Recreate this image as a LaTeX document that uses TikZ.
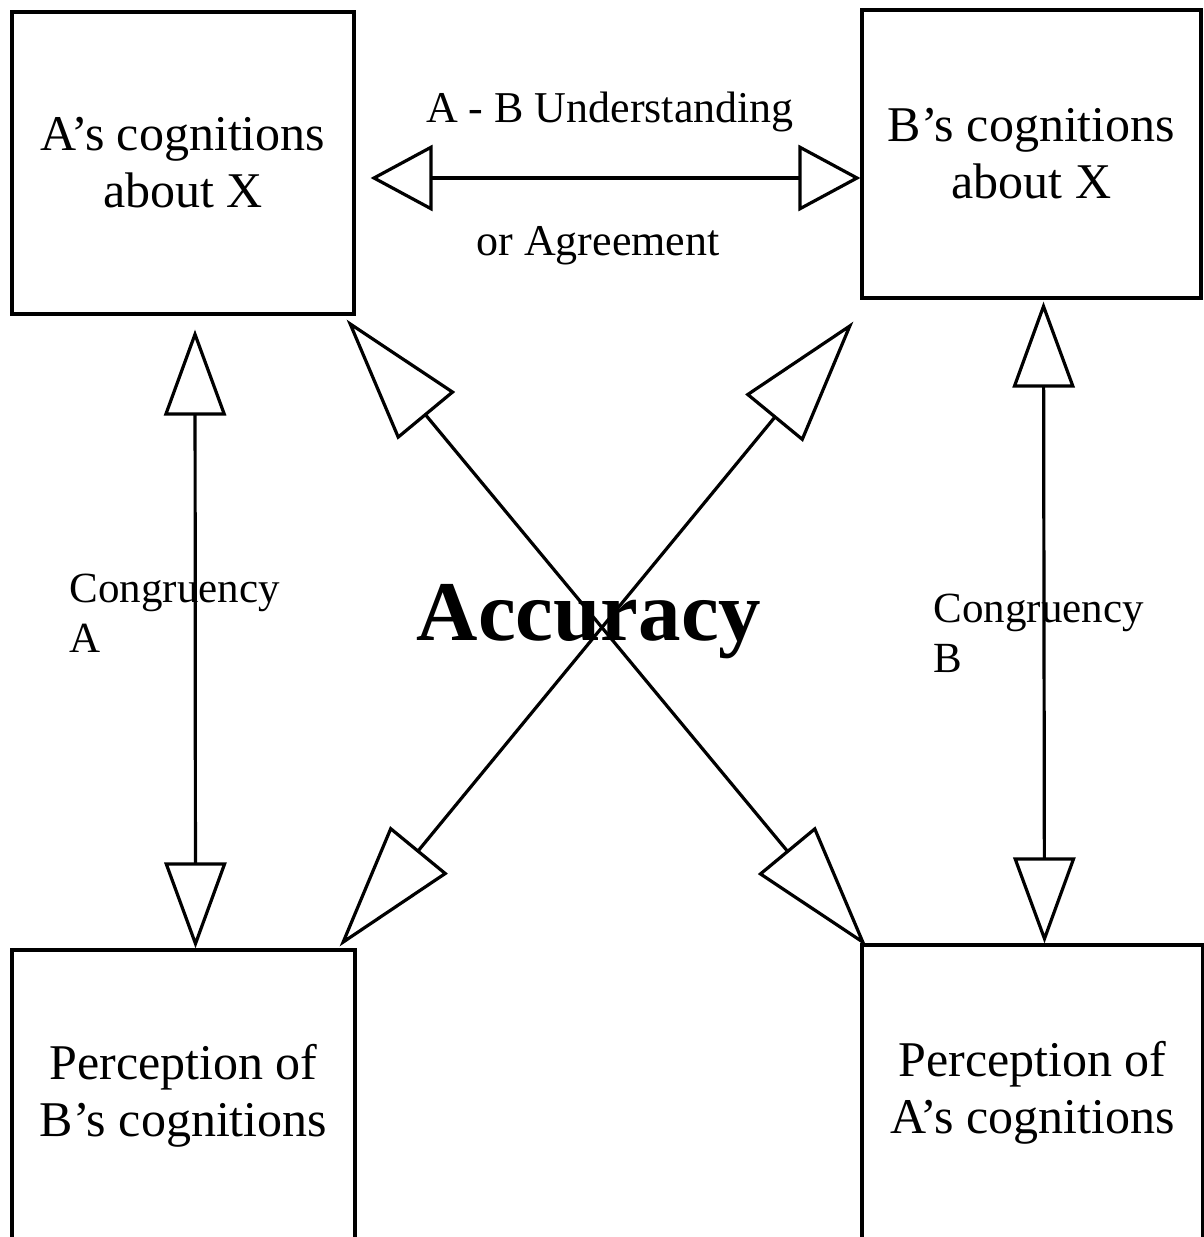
\documentclass[tikz,border=0pt]{standalone}
\usepackage{fontspec}
\setmainfont{Liberation Serif}
\usetikzlibrary{arrows.meta}

\begin{document}
\begin{tikzpicture}
  [x=1pt,y=-1pt,line width=3.2pt,
   box/.style={draw,rectangle,inner sep=0pt,align=center,
     font=\fontsize{50}{57}\selectfont},
   lbl/.style={font=\fontsize{44}{50}\selectfont},
   cong/.style={anchor=base west,align=left,inner sep=0pt,
     font=\fontsize{43}{50}\selectfont},
   harrow/.style={{Triangle[open,length=62pt,width=66pt]}-{Triangle[open,length=62pt,width=66pt]}},
   varrow/.style={{Triangle[open,length=86pt,width=62pt]}-{Triangle[open,length=86pt,width=62pt]}},
   darrow/.style={{Triangle[open,length=125pt,width=74pt]}-{Triangle[open,length=125pt,width=74pt]}}]
  \useasboundingbox (0,0) rectangle (1204,1237);

  % the four boxes
  \node[box,minimum width=342pt,minimum height=302pt] (ax) at (183,163)
    {A’s cognitions\\about X};
  \node[box,minimum width=339pt,minimum height=288pt] (bx) at (1031.5,154)
    {B’s cognitions\\about X};
  \node[box,minimum width=343pt,minimum height=292pt] (pb) at (183.5,1096)
    {Perception of\\B’s cognitions};
  \node[box,minimum width=341pt,minimum height=296pt] (pa) at (1032.5,1093)
    {Perception of\\A’s cognitions};

  % labels
  \node[lbl,anchor=base,inner sep=0pt] (under) at (610,122) {A - B Understanding};
  \node[lbl,anchor=base,inner sep=0pt] (agree) at (598,255) {or Agreement};
  \node[cong] (conga) at (68,652) {Congruency\\A};
  \node[cong] (congb) at (932,672) {Congruency\\B};

  % arrows
  \draw[harrow] ([shift={(15,15)}]ax.east) -- ([shift={(0,24)}]bx.west);
  \draw[varrow] ([shift={(12,14)}]ax.south) -- ([shift={(12,0)}]pb.north);
  \draw[varrow] ([shift={(12,2)}]bx.south) -- ([shift={(12,0)}]pa.north);
  \draw[darrow] ([shift={(-9,4)}]ax.south east) -- ([shift={(6,3)}]pa.north west);
  \draw[darrow] ([shift={(-7,22)}]bx.south west) -- ([shift={(-17,-2)}]pb.north east);

  \node[anchor=base,inner sep=0pt,font=\fontsize{85}{90}\selectfont\bfseries]
    (acc) at (589,640) {Accuracy};

\end{tikzpicture}
\end{document}
